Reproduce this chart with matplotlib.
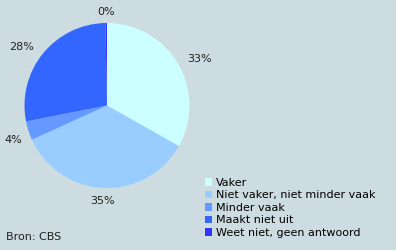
import matplotlib
matplotlib.use("Agg")
import matplotlib.pyplot as plt
from matplotlib.patches import Patch

categories = ["Vaker", "Niet vaker, niet minder vaak", "Minder vaak", "Maakt niet uit", "Weet niet, geen antwoord"]
values = [33.2, 35.0, 3.7, 27.8, 0.3]
labels = ["33%", "35%", "4%", "28%", "0%"]
colors = ["#ccffff", "#99ccff", "#6699ff", "#3366ff", "#3333ff"]
bg = "#cddce0"

W, H = 396, 250
fig = plt.figure(figsize=(W / 100, H / 100), dpi=100, facecolor=bg)

cx, cy, r = 107, 105.5, 82.5
ax = fig.add_axes([(cx - r) / W, (H - cy - r) / H, 2 * r / W, 2 * r / H])
ax.set_facecolor(bg)
wedges, texts = ax.pie(values, colors=colors, labels=labels, startangle=90,
                       counterclock=False, labeldistance=1.13,
                       wedgeprops=dict(linewidth=0),
                       textprops=dict(fontsize=8, color="#222222"))
ax.set_xlim(-1, 1)
ax.set_ylim(-1, 1)
ax.set_aspect("equal")
ax.axis("off")
for t in texts:
    t.set_clip_on(False)
texts[4].set_ha("center")
texts[1].set_ha("center")
x1, y1 = texts[1].get_position()
texts[1].set_position((x1, y1 - 0.03))
x2, y2 = texts[2].get_position()
texts[2].set_position((x2 + 0.05, y2 - 0.07))

handles = [Patch(facecolor=c, edgecolor="none") for c in colors]
fig.legend(handles, categories, loc="upper left",
           bbox_to_anchor=(205 / W, 1 - 178 / H), frameon=False,
           fontsize=8, handlelength=0.65, handleheight=0.65,
           handletextpad=0.35, labelspacing=0.22, borderaxespad=0,
           borderpad=0)

fig.text(6 / W, 1 - 237 / H, "Bron: CBS", fontsize=8, va="center", ha="left", color="#222222")

fig.savefig("out.png", dpi=100, facecolor=bg)
